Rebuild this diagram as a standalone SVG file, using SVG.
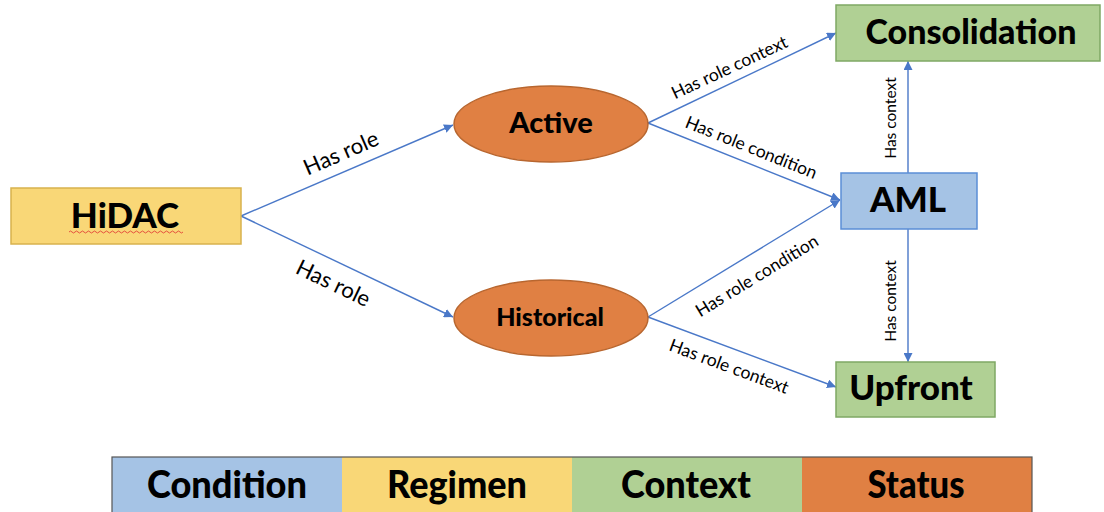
<svg xmlns="http://www.w3.org/2000/svg" width="1104" height="512" viewBox="0 0 1104 512">
<style>
.node{font-family:Lato,"Open Sans","DejaVu Sans",sans-serif;font-weight:900;fill:#000;text-anchor:middle}
.lbl{font-family:Lato,"Open Sans","DejaVu Sans",sans-serif;fill:#000;text-anchor:middle}
.edge{stroke:#4A78C8;stroke-width:1.4;fill:none;marker-end:url(#ah)}
.yel{fill:#F9D777;stroke:#D8B24E;stroke-width:1.5}
.grn{fill:#B0D094;stroke:#7FA864;stroke-width:1.5}
.blu{fill:#A5C3E5;stroke:#5B8ED6;stroke-width:1.5}
.org{fill:#E08043;stroke:#B8662F;stroke-width:1.5}
</style>
<defs>
<marker id="ah" viewBox="0 0 10 10" refX="10" refY="5" markerWidth="9" markerHeight="9" markerUnits="userSpaceOnUse" orient="auto">
<path d="M0,0 L10,5 L0,10 z" fill="#4A78C8"/>
</marker>
</defs>
<g id="connectors">
<line class="edge" x1="241" y1="216" x2="453" y2="125"/>
<line class="edge" x1="241" y1="216" x2="453" y2="317"/>
<line class="edge" x1="648" y1="123" x2="836" y2="33"/>
<line class="edge" x1="648" y1="123" x2="840" y2="200"/>
<line class="edge" x1="648" y1="317" x2="840" y2="200"/>
<line class="edge" x1="648" y1="317" x2="836" y2="387"/>
<line class="edge" x1="908" y1="173" x2="908" y2="61"/>
<line class="edge" x1="908" y1="229" x2="908" y2="362"/>
<text class="lbl" font-size="22" transform="translate(344,160) rotate(-23.4)">Has role</text>
<text class="lbl" font-size="22" transform="translate(330,290) rotate(25.6)">Has role</text>
<text class="lbl" font-size="17.5" transform="translate(732,73) rotate(-25)">Has role context</text>
<text class="lbl" font-size="17.5" transform="translate(749,153) rotate(21.9)">Has role condition</text>
<text class="lbl" font-size="17.5" transform="translate(760,281) rotate(-31.4)">Has role condition</text>
<text class="lbl" font-size="17.5" transform="translate(727,372) rotate(20.4)">Has role context</text>
<text class="lbl" font-size="15.5" transform="translate(896,118) rotate(-90)">Has context</text>
<text class="lbl" font-size="15.5" transform="translate(896,301) rotate(-90)">Has context</text>
</g>
<g id="hidac">
<rect class="yel" x="11" y="188" width="230" height="56"/>
<text class="node" x="125" y="228" font-size="35">HiDAC</text>
<path d="M69,232 q1.5,-2 3,0 t3,0 t3,0 t3,0 t3,0 t3,0 t3,0 t3,0 t3,0 t3,0 t3,0 t3,0 t3,0 t3,0 t3,0 t3,0 t3,0 t3,0 t3,0 t3,0 t3,0 t3,0 t3,0 t3,0 t3,0 t3,0 t3,0 t3,0 t3,0 t3,0 t3,0 t3,0 t3,0 t3,0 t3,0 t3,0 t3,0 t3,0" fill="none" stroke="#E03030" stroke-width="0.8"/>
</g>
<g id="active">
<ellipse class="org" cx="551" cy="124" rx="97" ry="38"/>
<text class="node" x="551" y="133" font-size="29">Active</text>
</g>
<g id="historical">
<ellipse class="org" cx="551" cy="318" rx="97" ry="38"/>
<text class="node" x="550" y="326" font-size="25">Historical</text>
</g>
<g id="consolidation">
<rect class="grn" x="836" y="5" width="264" height="56"/>
<text class="node" x="971" y="44" font-size="34">Consolidation</text>
</g>
<g id="aml">
<rect class="blu" x="841" y="173" width="136" height="56"/>
<text class="node" x="908" y="212" font-size="35">AML</text>
</g>
<g id="upfront">
<rect class="grn" x="836" y="362" width="159" height="55"/>
<text class="node" x="911" y="400" font-size="35">Upfront</text>
</g>
<g id="legend">
<rect x="112" y="457" width="230" height="60" fill="#A5C3E5"/>
<rect x="342" y="457" width="230" height="60" fill="#F9D777"/>
<rect x="572" y="457" width="230" height="60" fill="#B0D094"/>
<rect x="802" y="457" width="230" height="60" fill="#E08043"/>
<rect x="112" y="457" width="920" height="60" fill="none" stroke="#555" stroke-width="1.2"/>
<text class="node" x="227" y="498" font-size="38" textLength="160" lengthAdjust="spacingAndGlyphs">Condition</text>
<text class="node" x="457" y="498" font-size="38" textLength="140" lengthAdjust="spacingAndGlyphs">Regimen</text>
<text class="node" x="686" y="498" font-size="38" textLength="130" lengthAdjust="spacingAndGlyphs">Context</text>
<text class="node" x="916" y="498" font-size="38" textLength="97" lengthAdjust="spacingAndGlyphs">Status</text>
</g>
</svg>
